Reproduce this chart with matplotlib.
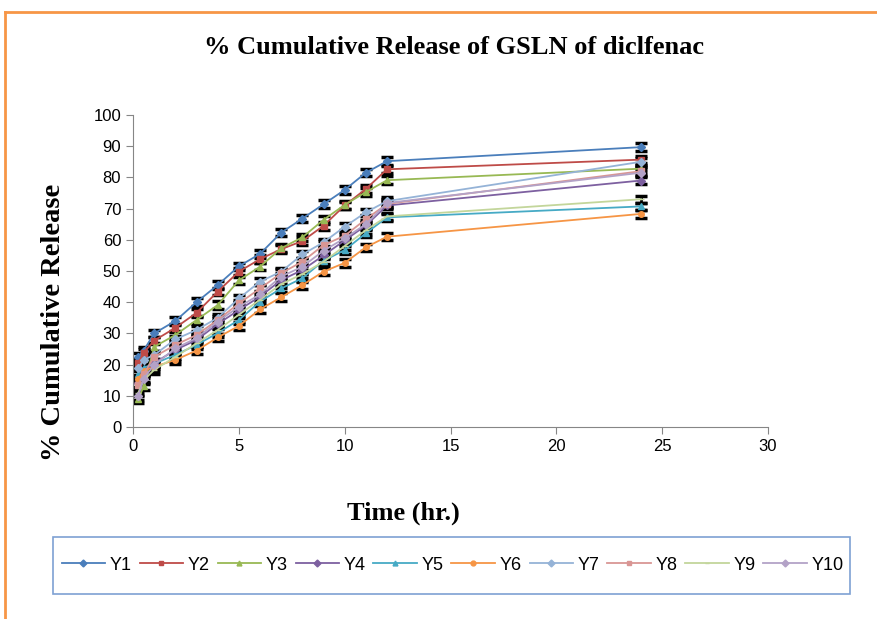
import matplotlib
matplotlib.use("Agg")
import matplotlib.pyplot as plt
from matplotlib.lines import Line2D
from matplotlib.patches import Rectangle
import numpy as np

# Time points (hr.)
time_hr = [0.25, 0.5, 1, 2, 3, 4, 5, 6, 7, 8, 9, 10, 11, 12, 24]

# % cumulative release for each batch
Y1 = [22.5, 24.5, 30.0, 34.0, 40.0, 45.5, 51.5, 55.5, 62.3, 66.8, 71.4, 76.0, 81.5, 85.2, 89.7]
Y2 = [20.5, 23.8, 27.7, 31.8, 36.6, 43.4, 49.8, 53.8, 57.0, 59.6, 64.5, 71.0, 76.3, 82.6, 85.7]
Y3 = [9.0, 13.0, 25.7, 29.5, 34.3, 39.1, 47.0, 51.4, 57.3, 60.8, 66.4, 71.2, 75.3, 79.1, 82.8]
Y4 = [14.0, 17.5, 20.5, 24.7, 27.9, 33.0, 37.5, 41.8, 47.1, 50.3, 55.0, 59.8, 64.6, 71.0, 79.0]
Y5 = [17.0, 19.0, 20.3, 23.1, 26.3, 30.1, 34.3, 40.2, 44.4, 47.7, 53.3, 56.7, 62.1, 67.2, 70.7]
Y6 = [15.5, 18.0, 19.3, 21.5, 24.5, 28.7, 32.4, 37.7, 41.6, 45.5, 49.8, 52.6, 57.6, 61.0, 68.3]
Y7 = [19.0, 21.5, 23.1, 28.1, 31.1, 35.0, 41.2, 46.6, 49.8, 55.3, 59.2, 64.2, 68.8, 72.4, 85.0]
Y8 = [13.5, 17.0, 22.5, 26.3, 29.5, 34.3, 39.6, 44.4, 49.3, 53.0, 58.3, 61.3, 66.6, 71.5, 82.0]
Y9 = [11.0, 15.0, 18.3, 22.5, 26.8, 31.1, 36.0, 40.8, 45.8, 49.0, 53.0, 58.0, 63.1, 67.5, 73.0]
Y10 = [10.0, 15.5, 19.9, 25.2, 28.5, 33.8, 38.5, 42.5, 48.2, 51.4, 56.5, 60.5, 65.0, 71.8, 81.5]

series = [Y1, Y2, Y3, Y4, Y5, Y6, Y7, Y8, Y9, Y10]
names = ["Y1", "Y2", "Y3", "Y4", "Y5", "Y6", "Y7", "Y8", "Y9", "Y10"]
sd = 1.2  # error bar half-height

colors = ["#4A7EBB", "#BE4B48", "#98B954", "#7D60A0", "#46AAC5",
          "#F69545", "#95B3D7", "#D99694", "#C3D69B", "#B3A2C7"]
markers = ["D", "s", "^", "D", "^", "o", "D", "s", "_", "D"]

fig = plt.figure(figsize=(8.77, 6.19), dpi=100)
ax = fig.add_axes([0.1517, 0.3102, 0.724, 0.504])

handles = []
for y, name, c, m in zip(series, names, colors, markers):
    ax.errorbar(time_hr, y, yerr=sd, color=c, marker=m, markersize=4,
                linewidth=1.3, ecolor="black", elinewidth=2, capsize=4,
                capthick=2.5)
    handles.append(Line2D([], [], color=c, marker=m, markersize=3.5,
                          linewidth=1.3, label=name))

ax.set_xlim(0, 30)
ax.set_ylim(0, 100)
ax.set_xticks(np.arange(0, 31, 5))
ax.set_yticks(np.arange(0, 101, 10))
for s in ["top", "right"]:
    ax.spines[s].set_visible(False)
for s in ["left", "bottom"]:
    ax.spines[s].set_color("#868686")
ax.tick_params(direction="out", color="#868686", length=5, labelsize=12,
               labelcolor="black")
for lab in ax.get_xticklabels() + ax.get_yticklabels():
    lab.set_family("Liberation Sans")

fig.text(0.518, 0.923, "% Cumulative Release of GSLN of diclfenac",
         ha="center", va="center", fontsize=19, fontweight="bold",
         family="Liberation Serif")
fig.text(0.061, 0.479, "% Cumulative Release", ha="center", va="center",
         rotation=90, fontsize=20.5, fontweight="bold", family="Liberation Serif")
fig.text(0.460, 0.171, "Time (hr.)", ha="center", va="center",
         fontsize=19, fontweight="bold", family="Liberation Serif")

leg = fig.legend(handles=handles, loc="center", bbox_to_anchor=(0.516, 0.087),
                 ncol=10, frameon=False, handlelength=2.4,
                 handletextpad=0.25, columnspacing=0.45, borderpad=0,
                 borderaxespad=0, prop={"family": "Liberation Sans", "size": 13})

# legend box
fig.add_artist(Rectangle((0.0604, 0.0404), 0.9088, 0.0921, fill=False,
                         edgecolor="#7EA1D3", linewidth=1.2,
                         transform=fig.transFigure))

# orange outer border (top and left)
fig.add_artist(Line2D([0.006, 1.0], [0.981, 0.981], color="#F79646", lw=2,
                      transform=fig.transFigure))
fig.add_artist(Line2D([0.006, 0.006], [0.0, 0.981], color="#F79646", lw=2,
                      transform=fig.transFigure))

fig.savefig("out.png", dpi=100)
